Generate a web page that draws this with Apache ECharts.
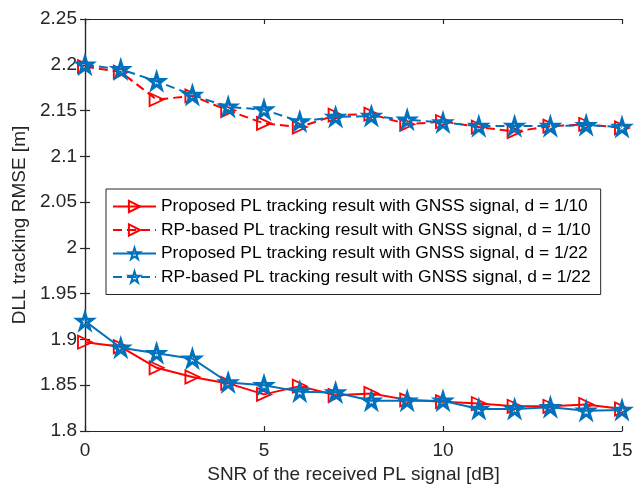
<!DOCTYPE html>
<html>
<head>
<meta charset="utf-8">
<script src="https://cdn.jsdelivr.net/npm/echarts@6/dist/echarts.min.js"></script>
<style>
  html, body { margin: 0; padding: 0; background: #fff; }
  #chart { width: 642px; height: 495px; }
</style>
</head>
<body>
<div id="chart"></div>
<script>
// SNR [dB]
const snr = [0, 1, 2, 3, 4, 5, 6, 7, 8, 9, 10, 11, 12, 13, 14, 15];

// DLL tracking RMSE [m]
const proposedD10 = [1.897, 1.892, 1.869, 1.859, 1.852, 1.840, 1.849, 1.839, 1.841, 1.834, 1.832, 1.830, 1.827, 1.827, 1.829, 1.824];
const rpD10 = [2.198, 2.192, 2.162, 2.166, 2.150, 2.136, 2.132, 2.145, 2.146, 2.135, 2.138, 2.132, 2.127, 2.133, 2.135, 2.131];
const proposedD22 = [1.920, 1.891, 1.885, 1.879, 1.853, 1.850, 1.843, 1.842, 1.833, 1.833, 1.833, 1.824, 1.824, 1.826, 1.822, 1.823];
const rpD22 = [2.200, 2.195, 2.182, 2.167, 2.154, 2.151, 2.138, 2.143, 2.144, 2.140, 2.137, 2.133, 2.133, 2.133, 2.134, 2.132];

const seriesNames = [
    'Proposed PL tracking result with GNSS signal, d = 1/10',
    'RP-based PL tracking result with GNSS signal, d = 1/10',
    'Proposed PL tracking result with GNSS signal, d = 1/22',
    'RP-based PL tracking result with GNSS signal, d = 1/22'
];

const RED = '#ff0000';
const BLUE = '#0072bd';
const STAR = 'path://M50,0 L61.2,34.5 L97.6,34.5 L68.2,55.9 L79.4,90.5 L50,69.1 L20.6,90.5 L31.8,55.9 L2.4,34.5 L38.8,34.5 Z';
const FONT = 'Liberation Sans';

function pairs(ys) {
    return snr.map((x, i) => [x, ys[i]]);
}

function makeSeries(name, ys, color, dashed, marker) {
    const tri = marker === 'tri';
    return {
        name: name,
        type: 'line',
        data: pairs(ys),
        symbol: tri ? 'triangle' : STAR,
        symbolSize: tri ? [13, 14] : 15,
        symbolRotate: tri ? -90 : 0,
        showAllSymbol: true,
        lineStyle: { color: color, width: 2, type: dashed ? [9, 5] : 'solid' },
        itemStyle: { color: 'rgba(255,255,255,0)', borderColor: color, borderWidth: tri ? 1.8 : 3 },
        emphasis: { disabled: true },
        animation: false,
        z: tri ? 2 : 3
    };
}

const chart = echarts.init(document.getElementById('chart'));

const axisLine = { show: true, lineStyle: { color: '#262626', width: 1.2 } };
const axisTick = { show: true, inside: true, length: 5, lineStyle: { color: '#262626', width: 1.2 } };

chart.setOption({
    backgroundColor: '#fff',
    textStyle: { fontFamily: FONT },
    grid: { left: 85, top: 19, right: 20, bottom: 64, containLabel: false },
    legend: {
        orient: 'vertical',
        left: 106,
        top: 189,
        data: seriesNames,
        itemWidth: 43,
        itemHeight: 14,
        itemGap: 6.5,
        padding: [9, 10, 9, 6],
        borderColor: '#262626',
        borderWidth: 1,
        backgroundColor: '#fff',
        textStyle: { fontFamily: FONT, fontSize: 17.4, color: '#000', padding: [0, 0, 0, 0] },
        selectedMode: false
    },
    xAxis: [
        {
            type: 'value',
            min: 0, max: 15, interval: 5,
            name: 'SNR of the received PL signal [dB]',
            nameLocation: 'middle',
            nameGap: 34,
            nameTextStyle: { fontFamily: FONT, fontSize: 19, color: '#262626' },
            axisLine: axisLine,
            axisTick: axisTick,
            axisLabel: { fontFamily: FONT, fontSize: 19, color: '#262626', margin: 10 },
            splitLine: { show: false }
        },
        {
            type: 'value', position: 'top',
            min: 0, max: 15, interval: 5,
            axisLine: axisLine,
            axisTick: axisTick,
            axisLabel: { show: false },
            splitLine: { show: false }
        }
    ],
    yAxis: [
        {
            type: 'value',
            min: 1.8, max: 2.25, interval: 0.05,
            name: 'DLL tracking RMSE [m]',
            nameLocation: 'middle',
            nameGap: 50,
            nameTextStyle: { fontFamily: FONT, fontSize: 19, color: '#262626' },
            axisLine: axisLine,
            axisTick: axisTick,
            axisLabel: { fontFamily: FONT, fontSize: 19, color: '#262626', margin: 8 },
            splitLine: { show: false }
        },
        {
            type: 'value', position: 'right',
            min: 1.8, max: 2.25, interval: 0.05,
            axisLine: axisLine,
            axisTick: axisTick,
            axisLabel: { show: false },
            splitLine: { show: false }
        }
    ],
    series: [
        makeSeries(seriesNames[0], proposedD10, RED, false, 'tri'),
        makeSeries(seriesNames[1], rpD10, RED, true, 'tri'),
        makeSeries(seriesNames[2], proposedD22, BLUE, false, 'star'),
        makeSeries(seriesNames[3], rpD22, BLUE, true, 'star')
    ]
});
</script>
</body>
</html>
